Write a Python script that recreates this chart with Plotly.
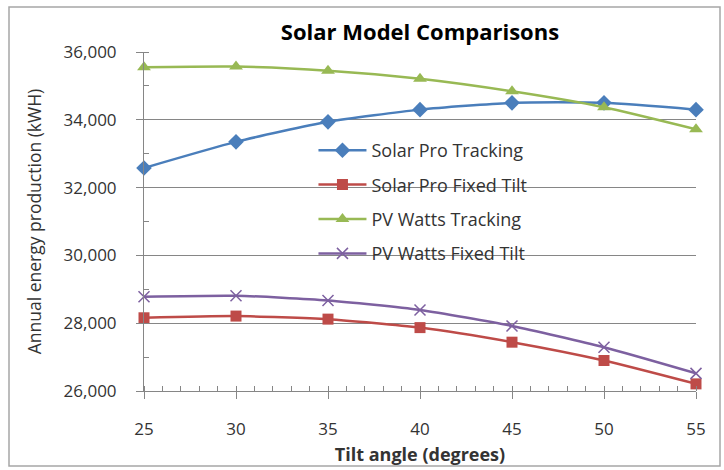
import plotly.graph_objects as go

tilt = [25, 30, 35, 40, 45, 50, 55]
solar_pro_tracking = [32580, 33350, 33940, 34300, 34500, 34500, 34300]
solar_pro_fixed = [28160, 28210, 28120, 27870, 27440, 26900, 26210]
pv_watts_tracking = [35550, 35570, 35450, 35210, 34840, 34370, 33720]
pv_watts_fixed = [28780, 28810, 28670, 28390, 27920, 27290, 26520]

series = [
    ("Solar Pro Tracking", solar_pro_tracking, "#4A7EBB", "diamond", 12),
    ("Solar Pro Fixed Tilt", solar_pro_fixed, "#BE4B48", "square", 11),
    ("PV Watts Tracking", pv_watts_tracking, "#98B954", "triangle-up", 12),
    ("PV Watts Fixed Tilt", pv_watts_fixed, "#7D60A0", "x-thin", 11),
]

fig = go.Figure()
for i, (name, vals, color, sym, size) in enumerate(series):
    marker = dict(symbol=sym, size=size, color=color)
    if sym == "x-thin":
        marker["line"] = dict(color=color, width=1.5)
    fig.add_trace(go.Scatter(
        x=tilt, y=vals, name=name, mode="lines+markers",
        line=dict(color=color, width=2.5, shape="spline", smoothing=0.6),
        marker=marker, cliponaxis=False, legendgroup=f"g{i}",
    ))

font_family = "Open Sans, Lato, sans-serif"
txt = "#333333"
fig.update_layout(
    width=724, height=470,
    margin=dict(l=144, r=28, t=52, b=79, autoexpand=False),
    paper_bgcolor="white", plot_bgcolor="white",
    font=dict(family=font_family, size=17, color=txt),
    title=dict(text="<b>Solar Model Comparisons</b>", x=420 / 724, xanchor="center",
               y=1 - 32 / 470, yanchor="middle", font=dict(size=22, color="#000000")),
    showlegend=True,
    legend=dict(x=0.307, y=0.764, xanchor="left", yanchor="top",
                bgcolor="rgba(0,0,0,0)", font=dict(size=18, color=txt),
                tracegroupgap=8, traceorder="grouped", itemwidth=48),
    xaxis=dict(
        range=[25, 55], dtick=5, tick0=25, showgrid=False, zeroline=False,
        showline=True, linecolor="#868686", linewidth=1,
        ticks="outside", ticklen=7, tickcolor="#868686", ticklabelstandoff=16,
        minor=dict(dtick=1, ticks="inside", ticklen=5, tickcolor="#868686", showgrid=False),
        title=dict(text="<b>Tilt angle (degrees)</b>", font=dict(size=18, color=txt), standoff=8),
        tickfont=dict(size=17, color=txt),
    ),
    yaxis=dict(
        range=[26000, 36000], dtick=2000, tick0=26000, tickformat=",",
        showgrid=True, gridcolor="#868686", gridwidth=1, zeroline=False,
        showline=True, linecolor="#868686", linewidth=1,
        ticks="outside", ticklen=7, tickcolor="#868686", ticklabelstandoff=16,
        minor=dict(dtick=1000, ticks="inside", ticklen=5, tickcolor="#868686", showgrid=False),
        title=dict(text="Annual energy production (kWH)", font=dict(size=17.5, color=txt), standoff=17),
        tickfont=dict(size=17, color=txt),
    ),
)
fig.add_shape(type="rect", xref="paper", yref="paper",
              x0=(9 - 144) / 552, x1=(720 - 144) / 552,
              y0=(391 - 466) / 339, y1=(391 - 7) / 339,
              line=dict(color="#A6A6A6", width=1.5), layer="below")

fig.write_html("out.html", config={"displayModeBar": False},
               post_script="document.body.style.margin='0px';")
